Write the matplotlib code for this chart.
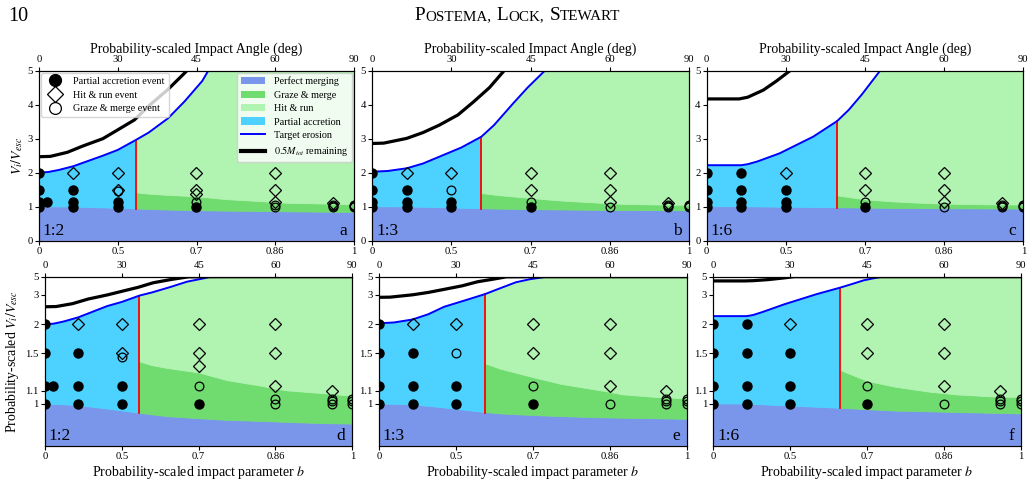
import numpy as np
import matplotlib
matplotlib.use("Agg")
import matplotlib.pyplot as plt
from matplotlib.patches import Patch
from matplotlib.lines import Line2D
from matplotlib.offsetbox import TextArea, HPacker, AnnotationBbox

plt.rcParams['font.family'] = 'Liberation Serif'
plt.rcParams['mathtext.fontset'] = 'stix'

# ---------------- data ----------------
ratios = ["1:2", "1:3", "1:6"]
letters_top = ["a", "b", "c"]
letters_bot = ["d", "e", "f"]
angle_ticks = [0, 30, 45, 60, 90]
b_tick_labels = ["0", "0.5", "0.7", "0.86", "1"]
vel_ticks = [1, 1.1, 1.5, 2, 3, 5]

# cumulative probability of the impact speed (probability-scaled velocity axis)
cdf_v = [0, 0.835, 0.93, 1.0, 1.1, 1.5, 2.0, 2.47, 2.86, 3.0, 3.52, 4.17, 5.0]
cdf_p = [0, 0.128, 0.188, 0.247, 0.324, 0.547, 0.718, 0.822, 0.878, 0.892, 0.935, 0.975, 1.0]

# impact parameter where partial accretion gives way to grazing
b_red = [0.554, 0.587, 0.642]

# perfect merging boundary
b_pm = [[0, 0.32, 0.45, 0.554, 0.63, 0.71, 0.77, 0.84, 0.89, 0.95, 1.0],
        [0, 0.32, 0.45, 0.587, 0.63, 0.71, 0.77, 0.84, 0.89, 0.95, 1.0],
        [0, 0.32, 0.45, 0.642, 0.71, 0.77, 0.84, 0.89, 0.95, 1.0]]
v_pm = [[1.0, 0.99, 0.965, 0.935, 0.905, 0.885, 0.87, 0.86, 0.85, 0.84, 0.835],
        [1.0, 0.995, 0.975, 0.94, 0.93, 0.915, 0.905, 0.895, 0.89, 0.885, 0.88],
        [1.0, 1.0, 0.99, 0.97, 0.96, 0.95, 0.945, 0.94, 0.935, 0.93]]

# graze & merge / hit & run boundary
b_gm = [[0.554, 0.59, 0.63, 0.71, 0.77, 0.84, 0.866, 0.89, 0.95, 1.0],
        [0.587, 0.63, 0.71, 0.77, 0.84, 0.866, 0.89, 0.95, 1.0],
        [0.642, 0.71, 0.77, 0.84, 0.866, 0.89, 0.95, 1.0]]
v_gm = [[1.41, 1.37, 1.34, 1.29, 1.21, 1.15, 1.12, 1.10, 1.08, 1.06],
        [1.39, 1.33, 1.24, 1.17, 1.11, 1.09, 1.07, 1.05, 1.04],
        [1.32, 1.20, 1.14, 1.09, 1.08, 1.07, 1.055, 1.05]]

# target erosion
b_ero = [[0, 0.17, 0.25, 0.33, 0.45, 0.5, 0.554, 0.59, 0.64, 0.68, 0.72, 0.733, 0.8, 0.9, 1.0],
         [0, 0.22, 0.33, 0.4, 0.46, 0.53, 0.587, 0.62, 0.667, 0.7, 0.738, 0.8, 0.9, 1.0],
         [0, 0.33, 0.36, 0.40, 0.48, 0.58, 0.642, 0.67, 0.70, 0.74, 0.8, 0.9, 1.0]]
v_ero = [[2.0, 2.02, 2.08, 2.19, 2.5, 2.67, 2.96, 3.18, 3.6, 4.1, 4.7, 5.0, 7, 12, 20],
         [2.03, 2.05, 2.13, 2.27, 2.47, 2.74, 3.06, 3.4, 4.04, 4.5, 5.0, 7, 12, 20],
         [2.22, 2.22, 2.25, 2.33, 2.57, 3.06, 3.52, 3.85, 4.3, 5.0, 7, 12, 20]]

# 0.5 M_tot remaining
b_half = [[0, 0.19, 0.3, 0.375, 0.45, 0.5, 0.55, 0.593, 0.64, 0.683, 0.75, 0.85, 1.0],
          [0, 0.19, 0.33, 0.4, 0.46, 0.52, 0.566, 0.608, 0.643, 0.7, 0.8, 1.0],
          [0, 0.32, 0.36, 0.423, 0.47, 0.513, 0.6, 0.8, 1.0]]
v_half = [[2.47, 2.48, 2.6, 2.79, 3.0, 3.26, 3.55, 3.99, 4.45, 4.97, 6, 8, 12],
          [2.86, 2.87, 3.01, 3.18, 3.4, 3.7, 4.09, 4.5, 4.97, 6, 8, 12],
          [4.17, 4.17, 4.22, 4.43, 4.7, 5.0, 6, 8, 12]]

# simulated collisions
acc_b = [[0, 0, 0, 0, 0.16, 0.33, 0.33, 0.33, 0.5, 0.5, 0.707],
         [0, 0, 0, 0, 0.33, 0.33, 0.33, 0.5, 0.5, 0.707],
         [0, 0, 0, 0, 0.33, 0.33, 0.33, 0.33, 0.5, 0.5, 0.5, 0.707]]
acc_v = [[2, 1.5, 1.15, 1.0, 1.15, 1.5, 1.15, 1.0, 1.15, 1.0, 1.0],
         [2, 1.5, 1.15, 1.0, 1.5, 1.15, 1.0, 1.15, 1.0, 1.0],
         [2, 1.5, 1.15, 1.0, 2, 1.5, 1.15, 1.0, 1.5, 1.15, 1.0, 1.0]]
hr_b = [[0.33, 0.5, 0.5, 0.707, 0.707, 0.707, 0.866, 0.866, 0.866, 0.966],
        [0.33, 0.5, 0.707, 0.707, 0.866, 0.866, 0.866, 0.966],
        [0.5, 0.707, 0.707, 0.866, 0.866, 0.866, 0.966]]
hr_v = [[2, 2, 1.5, 2, 1.5, 1.37, 2, 1.5, 1.15, 1.1],
        [2, 2, 2, 1.5, 2, 1.5, 1.15, 1.1],
        [2, 2, 1.5, 2, 1.5, 1.15, 1.1]]
gme_b = [[0.5, 0.707, 0.866, 0.866, 0.966, 0.966, 0.966, 1, 1, 1],
         [0.5, 0.707, 0.866, 0.966, 0.966, 0.966, 1, 1, 1],
         [0.707, 0.866, 0.966, 0.966, 0.966, 1, 1, 1]]
gme_v = [[1.46, 1.15, 1.04, 1.0, 1.0, 1.02, 1.04, 1.0, 1.02, 1.04],
         [1.5, 1.15, 1.0, 1.0, 1.02, 1.04, 1.0, 1.02, 1.04],
         [1.15, 1.0, 1.0, 1.02, 1.04, 1.0, 1.02, 1.04]]

# ---------------- style ----------------
def blend(name, a=0.7):
    c = np.array(matplotlib.colors.to_rgb(name))
    return tuple(a * c + (1 - a))

c_pm = blend('royalblue')
c_gm = blend('limegreen')
c_hr = blend('lightgreen')
c_pa = blend('deepskyblue')

W, H = 1035, 498
fig = plt.figure(figsize=(W / 100, H / 100), dpi=100)

def rect(x0, x1, yt, yb):
    return [x0 / W, 1 - yb / H, (x1 - x0) / W, (yb - yt) / H]

top_rects = [rect(39, 354, 70.7, 240.7), rect(372.3, 689, 70.7, 240.7),
             rect(706.7, 1023.3, 70.7, 240.7)]
bot_rects = [rect(45, 352.3, 276.7, 445.7), rect(379, 686.7, 276.7, 445.7),
             rect(713.3, 1020.7, 276.7, 445.7)]

b_fwd = lambda b: np.sign(b) * np.asarray(b) ** 2
b_inv = lambda x: np.sign(x) * np.sqrt(np.abs(x))
v_fwd = lambda v: np.interp(v, cdf_v, cdf_p)
v_inv = lambda p: np.interp(p, cdf_p, cdf_v)
b_ticks = np.sin(np.radians(angle_ticks))
tick_kw = dict(labelsize=7.7, length=3, width=0.8, pad=1.5)


def draw_panel(ax, k):
    br = b_red[k]
    bp, vp = np.array(b_pm[k]), np.array(v_pm[k])
    bg, vg = np.array(b_gm[k]), np.array(v_gm[k])
    be, ve = np.array(b_ero[k]), np.array(v_ero[k])
    L, R = bp <= br, bp >= br
    Le, Re = be <= br, be >= br
    kw = dict(lw=0.6)
    ax.fill(np.r_[bp, 1, 0], np.r_[vp, 0, 0], fc=c_pm, ec=c_pm, **kw)
    ax.fill(np.r_[bp[L], be[Le][::-1]], np.r_[vp[L], ve[Le][::-1]], fc=c_pa, ec=c_pa, **kw)
    ax.fill(np.r_[bp[R], bg[::-1]], np.r_[vp[R], vg[::-1]], fc=c_gm, ec=c_gm, **kw)
    ax.fill(np.r_[bg, be[Re][::-1]], np.r_[vg, ve[Re][::-1]], fc=c_hr, ec=c_hr, **kw)
    ax.plot([br, br], [vp[R][0], ve[Le][-1]], color='red', lw=1.3)
    ax.plot(be, ve, color='blue', lw=1.4)
    ax.plot(b_half[k], v_half[k], color='black', lw=2.3)
    ax.plot(acc_b[k], acc_v[k], 'o', color='k', ms=6.5, ls='none')
    ax.plot(hr_b[k], hr_v[k], 'D', mfc='none', mec='k', ms=6.3, mew=0.9, ls='none')
    ax.plot(gme_b[k], gme_v[k], 'o', mfc='none', mec='k', ms=6.3, mew=0.9, ls='none')
    ax.set_xscale('function', functions=(b_fwd, b_inv))
    ax.set_xlim(0, 1)
    ax.set_xticks(b_ticks, b_tick_labels)
    ax.tick_params(**tick_kw)
    tw = ax.twiny()
    tw.set_xscale('function', functions=(b_fwd, b_inv))
    tw.set_xlim(0, 1)
    tw.set_xticks(b_ticks, [str(a) for a in angle_ticks])
    tw.tick_params(**tick_kw)
    return tw


for k in range(3):
    ax = fig.add_axes(top_rects[k])
    tw = draw_panel(ax, k)
    ax.set_ylim(0, 5)
    ax.set_yticks([0, 1, 2, 3, 4, 5])
    tw.set_xlabel('Probability-scaled Impact Angle (deg)', fontsize=10, labelpad=2)
    ax.text(0.012, 0.034, ratios[k], transform=ax.transAxes, fontsize=12.5, va='baseline')
    ax.text(0.978, 0.034, letters_top[k], transform=ax.transAxes, fontsize=12.5,
            va='baseline', ha='right')
    if k == 0:
        ax.set_ylabel(r'$V_i/V_{esc}$', fontsize=10, labelpad=2)
        h1 = [Line2D([], [], marker='o', color='k', ls='none', ms=8.5),
              Line2D([], [], marker='D', mfc='none', mec='k', ls='none', ms=8, mew=0.9),
              Line2D([], [], marker='o', mfc='none', mec='k', ls='none', ms=8.5, mew=0.9)]
        leg1 = ax.legend(h1, ['Partial accretion event', 'Hit & run event',
                              'Graze & merge event'],
                         loc='upper left', fontsize=7.3, borderaxespad=0.2,
                         labelspacing=0.45)
        ax.add_artist(leg1)
        h2 = [Patch(fc=c_pm), Patch(fc=c_gm), Patch(fc=c_hr), Patch(fc=c_pa),
              Line2D([], [], color='blue', lw=1.4), Line2D([], [], color='k', lw=3)]
        ax.legend(h2, ['Perfect merging', 'Graze & merge', 'Hit & run',
                       'Partial accretion', 'Target erosion',
                       r'$0.5M_{tot}$ remaining'],
                  loc='upper right', fontsize=7.3, borderaxespad=0.2,
                  handlelength=2.4, labelspacing=0.42)

for k in range(3):
    ax = fig.add_axes(bot_rects[k])
    ax.set_yscale('function', functions=(v_fwd, v_inv))
    tw = draw_panel(ax, k)
    ax.set_ylim(0, 5)
    ax.set_yticks(vel_ticks, [str(v) for v in vel_ticks])
    ax.set_xlabel('Probability-scaled impact parameter $b$', fontsize=10, labelpad=2)
    ax.text(0.012, 0.034, ratios[k], transform=ax.transAxes, fontsize=12.5, va='baseline')
    ax.text(0.978, 0.034, letters_bot[k], transform=ax.transAxes, fontsize=12.5,
            va='baseline', ha='right')
    if k == 0:
        ax.set_ylabel(r'Probability-scaled $V_i/V_{esc}$', fontsize=10, labelpad=3)

# page header
fig.text(8 / W, 1 - 21 / H, '10', fontsize=14.5, va='baseline')
groups = []
for big, small in [("P", "OSTEMA,"), ("L", "OCK,"), ("S", "TEWART")]:
    groups.append(HPacker(children=[TextArea(big, textprops=dict(fontsize=13.8)),
                                    TextArea(small, textprops=dict(fontsize=10.9))],
                          align="baseline", pad=0, sep=0))
head = HPacker(children=groups, align="baseline", pad=0, sep=4)
fig.add_artist(AnnotationBbox(head, (0.5, 1 - 24 / H), xycoords='figure fraction',
                              box_alignment=(0.5, 0), frameon=False))

fig.savefig('out.png', dpi=100)
